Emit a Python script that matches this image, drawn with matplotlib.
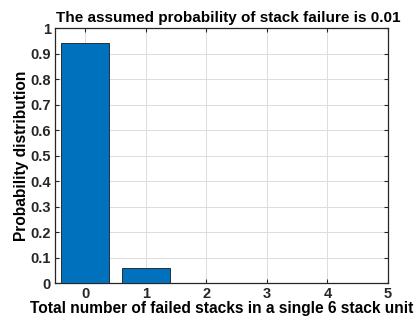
import matplotlib
matplotlib.use("Agg")
import matplotlib.pyplot as plt

# binomial probabilities for 6 stacks, p = 0.01
n_failed = [0, 1, 2, 3, 4, 5]
prob = [0.9415, 0.0571, 0.0014, 0.00002, 0.0, 0.0]
y_ticks = [0, 0.1, 0.2, 0.3, 0.4, 0.5, 0.6, 0.7, 0.8, 0.9, 1]
y_ticklabels = ["0", "0.1", "0.2", "0.3", "0.4", "0.5", "0.6", "0.7", "0.8", "0.9", "1"]

plt.rcParams["font.family"] = ["Liberation Sans", "DejaVu Sans"]
plt.rcParams["font.weight"] = "bold"

fig = plt.figure(figsize=(4.18, 3.30), dpi=100, facecolor="white")
ax = fig.add_axes([0.1316, 0.1424, 0.7966, 0.7726])

ax.bar(n_failed, prob, width=0.8, color="#0072BD", edgecolor="#1a1a1a", linewidth=0.6, zorder=3)

ax.set_xlim(-0.5, 5)
ax.set_ylim(0, 1)
ax.set_xticks(n_failed)
ax.set_yticks(y_ticks)
ax.set_yticklabels(y_ticklabels)
ax.grid(True, color="#dcdcdc", linewidth=0.7, zorder=0)
ax.set_axisbelow(True)

ax.tick_params(direction="in", top=True, right=True, length=3, width=0.8,
               labelsize=10.5, colors="#262626", pad=3)
for s in ax.spines.values():
    s.set_color("#262626")
    s.set_linewidth(0.9)

ax.set_title("The assumed probability of stack failure is 0.01", fontsize=11,
             fontweight="bold", pad=4, x=0.52)
ax.set_xlabel("Total number of failed stacks in a single 6 stack unit", fontsize=11.2,
              fontweight="bold", labelpad=0)
ax.set_ylabel("Probability distribution", fontsize=11.2, fontweight="bold", labelpad=1)

fig.savefig("out.png", dpi=100, facecolor="white")
